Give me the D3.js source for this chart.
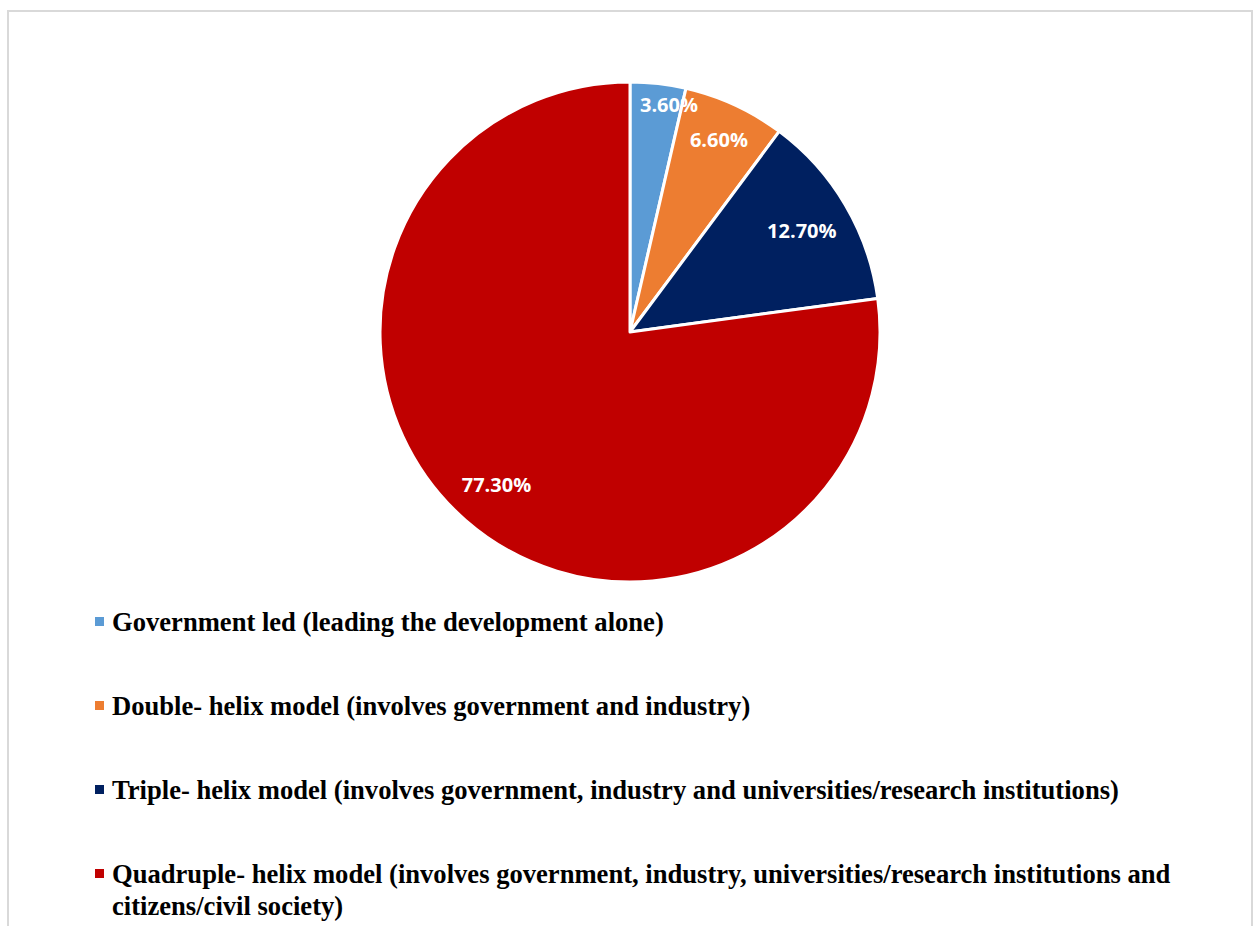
<!DOCTYPE html>
<html>
<head>
<meta charset="utf-8">
<script src="https://cdn.jsdelivr.net/npm/d3@7"></script>
<style>
  html, body { margin: 0; padding: 0; background: #ffffff; }
  svg { display: block; }
</style>
</head>
<body>
<svg id="chart" width="1258" height="926"></svg>
<script>
// Development models and their shares (%)
const categories = [
  "Government led (leading the development alone)",
  "Double- helix model (involves government and industry)",
  "Triple- helix model (involves government, industry and universities/research institutions)",
  "Quadruple- helix model (involves government, industry, universities/research institutions and citizens/civil society)"
];
const shares = [3.6, 6.6, 12.7, 77.3];
const shareLabels = ["3.60%", "6.60%", "12.70%", "77.30%"];
const colors = ["#5B9BD5", "#ED7D31", "#002060", "#C00000"];

const svg = d3.select("#chart");
const W = 1258, H = 926;

// chart frame
svg.append("rect")
  .attr("x", 8).attr("y", 11)
  .attr("width", 1244).attr("height", H)
  .attr("fill", "#ffffff")
  .attr("stroke", "#d9d9d9")
  .attr("stroke-width", 2);

const cx = 630, cy = 332, R = 250;

const data = categories.map((c, i) => ({ name: c, value: shares[i], label: shareLabels[i], color: colors[i] }));

const pie = d3.pie().value(d => d.value).sort(null);
const arcs = pie(data);
const arc = d3.arc().innerRadius(0).outerRadius(R);

const g = svg.append("g").attr("transform", `translate(${cx},${cy})`);

g.selectAll("path.slice")
  .data(arcs)
  .join("path")
  .attr("class", "slice")
  .attr("d", arc)
  .attr("fill", d => d.data.color)
  .attr("stroke", "#ffffff")
  .attr("stroke-width", 3)
  .attr("stroke-linejoin", "round");

const labels = g.selectAll("text.val")
  .data(arcs)
  .join("text")
  .attr("class", "val")
  .attr("text-anchor", "middle")
  .attr("dominant-baseline", "central")
  .attr("fill", "#ffffff")
  .attr("font-family", "'Open Sans', 'DejaVu Sans', sans-serif")
  .attr("font-weight", "bold")
  .attr("font-size", 20)
  .text(d => d.data.label);

// inside-end placement: slide the label out along its slice until the
// outer corner of its box sits a fixed gap inside the rim
labels.each(function(d) {
  const span = d.endAngle - d.startAngle;
  let a = (d.startAngle + d.endAngle) / 2;
  let r = 0;
  if (span < 0.3) {
    // thin slice: keep near the rim and let the text spill past the edge
    a = d.startAngle + span * 0.75;
    r = R * 0.925;
  } else {
    const bb = this.getBBox();
    const hw = bb.width / 2, hh = bb.height / 2 - 3;
    const sx = Math.sin(a), sy = -Math.cos(a);
    for (let t = 0; t <= R; t += 0.5) {
      const x = sx * t + Math.sign(sx) * hw, y = sy * t + Math.sign(sy) * hh;
      if (Math.hypot(x, y) > R - 15) break;
      r = t;
    }
  }
  d3.select(this).attr("transform", `translate(${Math.sin(a) * r},${-Math.cos(a) * r})`);
});

// legend
const legX = 95, textX = 112, legY0 = 622, legStep = 84, lineH = 32, maxW = 1090;
const leg = svg.append("g");

data.forEach((d, i) => {
  const y = legY0 + i * legStep;
  leg.append("rect")
    .attr("x", legX).attr("y", y - 5)
    .attr("width", 9).attr("height", 9)
    .attr("fill", d.color);
  const t = leg.append("text")
    .attr("x", textX).attr("y", y)
    .attr("dominant-baseline", "central")
    .attr("font-family", "'Liberation Serif', 'Times New Roman', serif")
    .attr("font-weight", "bold")
    .attr("font-size", 26.6)
    .attr("fill", "#000000");
  // wrap words into lines that fit the legend width
  const words = d.name.split(" ");
  let line = [];
  let ts = t.append("tspan").attr("x", textX).attr("dy", 0);
  words.forEach(w => {
    line.push(w);
    ts.text(line.join(" "));
    if (ts.node().getComputedTextLength() > maxW && line.length > 1) {
      line.pop();
      ts.text(line.join(" "));
      line = [w];
      ts = t.append("tspan").attr("x", textX).attr("dy", lineH).text(w);
    }
  });
});
</script>
</body>
</html>
